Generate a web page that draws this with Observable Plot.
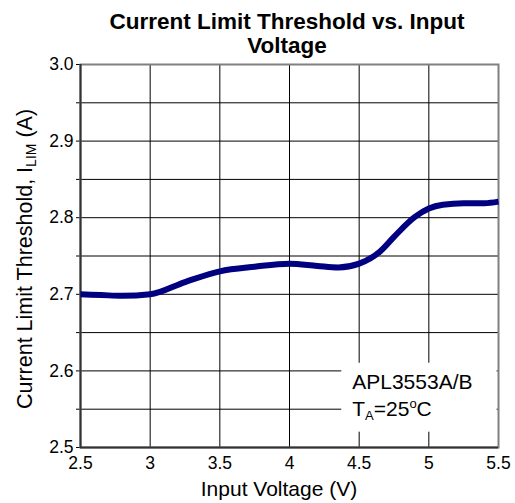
<!DOCTYPE html>
<html>
<head>
<meta charset="utf-8">
<script src="https://cdn.jsdelivr.net/npm/d3@7"></script>
<script src="https://cdn.jsdelivr.net/npm/@observablehq/plot@0.6"></script>
<style>
  body { margin: 0; background: #fff; }
  #wrap { width: 515px; height: 503px; position: relative; background: #fff; }
  #title { position: absolute; left: 78px; width: 418px; top: 10px; text-align: center; z-index: 2;
           font: bold 22.5px "Liberation Sans", Arial, sans-serif; line-height: 24px; white-space: nowrap; color: #000; }
  #chart { position: absolute; left: 0; top: 52px; z-index: 1; }
</style>
</head>
<body>
<div id="wrap">
  <div id="chart"></div>
  <div id="title">Current Limit Threshold vs. Input<br>Voltage</div>
</div>
<script>
// Data
const vin  = [2.5, 2.65, 2.8, 3.0, 3.25, 3.5, 3.75, 4.0, 4.2, 4.35, 4.5, 4.65, 4.75, 4.9, 5.0, 5.1, 5.25, 5.4, 5.5];
const ilim = [2.700, 2.699, 2.698, 2.700, 2.716, 2.730, 2.736, 2.740, 2.737, 2.735, 2.740, 2.756, 2.775, 2.801, 2.812, 2.817, 2.819, 2.819, 2.821];

const xTicks = [2.5, 3, 3.5, 4, 4.5, 5, 5.5];
const xTickLabels = ["2.5", "3", "3.5", "4", "4.5", "5", "5.5"];
const yGrid = [2.5, 2.55, 2.6, 2.65, 2.7, 2.75, 2.8, 2.85, 2.9, 2.95, 3.0];
const yTickLabels = ["2.5", "", "2.6", "", "2.7", "", "2.8", "", "2.9", "", "3.0"];

const xLabel = "Input Voltage (V)";
const yLabelParts = ["Current Limit Threshold, I", "LIM", " (A)"];
const noteLine1 = "APL3553A/B";
const noteLine2 = ["T", "A", "=25", "o", "C"];

const data = vin.map((v, i) => ({vin: v, ilim: ilim[i]}));

const W = 515, H = 451;
const font = '"Liberation Sans", Arial, sans-serif';

const plot = Plot.plot({
  width: W,
  height: H,
  marginTop: 12,
  marginLeft: 80,
  marginRight: 17,
  marginBottom: 56,
  style: {fontFamily: font, fontSize: "17px", color: "#000", background: "transparent", overflow: "visible"},
  x: {domain: [2.5, 5.5]},
  y: {domain: [2.5, 3.0]},
  marks: [
    Plot.gridX(xTicks, {stroke: "#000", strokeOpacity: 1, strokeWidth: 1}),
    Plot.gridY(yGrid, {stroke: "#000", strokeOpacity: 1, strokeWidth: 1}),
    Plot.axisX(xTicks, {tickSize: 0, tickPadding: 9, label: null,
      tickFormat: d => xTickLabels[xTicks.indexOf(d)], fontSize: 17.5}),
    Plot.axisY(yGrid, {tickSize: 4, tickPadding: 3, label: null, stroke: "#000",
      tickFormat: (d, i) => yTickLabels[i], fontSize: 17.5}),
    Plot.frame({stroke: "#808080", strokeWidth: 2}),
    Plot.ruleX([2.5], {stroke: "#333", strokeWidth: 2}),
    Plot.ruleY([2.5], {stroke: "#333", strokeWidth: 2}),
    Plot.line(data, {x: "vin", y: "ilim", stroke: "#000080", strokeWidth: 6,
      curve: "monotone-x", strokeLinecap: "butt"})
  ]
});

document.getElementById("chart").appendChild(plot);

const sx = plot.scale("x"), sy = plot.scale("y");
const svg = d3.select(plot);

// annotation box (white, no border)
const bx1 = sx.apply(4.375), bx2 = sx.apply(5.49);
const by1 = sy.apply(2.61), by2 = sy.apply(2.52);
const g = svg.append("g").attr("text-anchor", "start");
g.append("rect").attr("x", bx1).attr("y", by1).attr("width", bx2 - bx1).attr("height", by2 - by1).attr("fill", "#fff");
g.append("text").attr("x", bx1 + 11).attr("y", by1 + 26)
  .attr("font-family", font).attr("font-size", 21).attr("fill", "#000").text(noteLine1);
const t2 = g.append("text").attr("x", bx1 + 11).attr("y", by1 + 53)
  .attr("font-family", font).attr("font-size", 21).attr("fill", "#000");
t2.append("tspan").text(noteLine2[0]);
t2.append("tspan").attr("font-size", 13).attr("dy", 4).text(noteLine2[1]);
t2.append("tspan").attr("dy", -4).text(noteLine2[2]);
t2.append("tspan").attr("font-size", 13).attr("dy", -8).text(noteLine2[3]);
t2.append("tspan").attr("dy", 8).text(noteLine2[4]);

// x axis label
svg.append("text").attr("x", 279).attr("y", H - 7).attr("text-anchor", "middle")
  .attr("font-family", font).attr("font-size", 21).attr("fill", "#000").text(xLabel);

// y axis label with subscript
const yMid = (sy.apply(2.5) + sy.apply(3.0)) / 2 + 3.5;
const yl = svg.append("text").attr("transform", `translate(32,${yMid}) rotate(-90)`)
  .attr("text-anchor", "middle").attr("font-family", font).attr("font-size", 21.5).attr("fill", "#000");
yl.append("tspan").text(yLabelParts[0]);
yl.append("tspan").attr("font-size", 14).attr("dy", 4).text(yLabelParts[1]);
yl.append("tspan").attr("dy", -4).text(yLabelParts[2]);
</script>
</body>
</html>
